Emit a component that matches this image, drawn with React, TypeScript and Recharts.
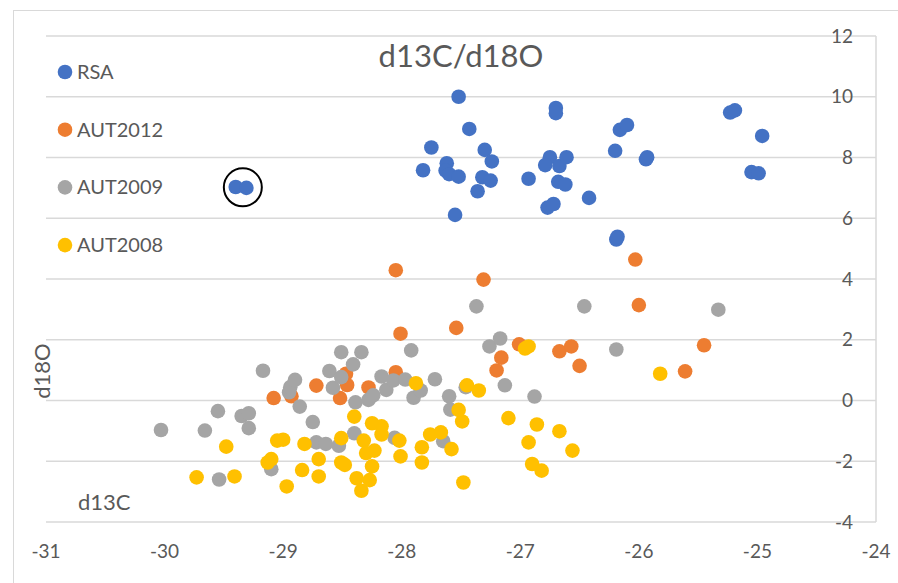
import React from 'react';
import { ScatterChart, Scatter, XAxis, YAxis, CartesianGrid, ReferenceDot } from 'recharts';

// [d13C, d18O]
const rsa: [number, number][] = [
  [-27.52, 10.0], [-27.43, 8.94], [-27.75, 8.33], [-27.82, 7.58], [-27.62, 7.81],
  [-27.63, 7.57], [-27.6, 7.45], [-27.52, 7.37], [-27.55, 6.11], [-27.3, 8.25],
  [-27.24, 7.87], [-27.32, 7.35], [-27.25, 7.24], [-27.36, 6.89], [-26.93, 7.3],
  [-26.7, 9.63], [-26.7, 9.46], [-26.75, 8.01], [-26.79, 7.75], [-26.67, 7.72],
  [-26.61, 8.01], [-26.68, 7.2], [-26.62, 7.11], [-26.77, 6.35], [-26.72, 6.47],
  [-26.42, 6.67], [-26.16, 8.91], [-26.1, 9.07], [-26.2, 8.22], [-25.94, 7.94],
  [-25.93, 8.01], [-26.19, 5.3], [-26.18, 5.39], [-25.23, 9.48], [-25.19, 9.55],
  [-24.96, 8.71], [-25.05, 7.52], [-24.99, 7.48], [-29.4, 7.03], [-29.31, 7.0],
];

const aut2012: [number, number][] = [
  [-28.05, 4.29], [-28.01, 2.2], [-27.31, 3.98], [-27.54, 2.39], [-27.01, 1.85],
  [-27.16, 1.41], [-27.2, 0.99], [-26.67, 1.62], [-26.57, 1.78], [-26.5, 1.14],
  [-26.03, 4.64], [-26.0, 3.14], [-25.45, 1.82], [-25.61, 0.96], [-29.08, 0.08],
  [-28.93, 0.14], [-28.72, 0.49], [-28.47, 0.88], [-28.46, 0.51], [-28.52, 0.08],
  [-28.28, 0.43], [-28.05, 0.93],
];

const aut2009: [number, number][] = [
  [-30.03, -0.97], [-29.66, -0.99], [-29.55, -0.35], [-29.35, -0.51], [-29.29, -0.42],
  [-29.29, -0.91], [-29.54, -2.6], [-29.1, -2.26], [-29.17, 0.98], [-28.95, 0.27],
  [-28.94, 0.44], [-28.9, 0.68], [-28.86, -0.2], [-28.75, -0.71], [-28.72, -1.38],
  [-28.64, -1.43], [-28.53, -1.49], [-28.4, -1.08], [-28.61, 0.97], [-28.58, 0.42],
  [-28.51, 1.59], [-28.51, 0.77], [-28.41, 1.19], [-28.34, 1.59], [-28.39, -0.06],
  [-28.28, 0.02], [-28.24, 0.17], [-28.17, 0.79], [-28.13, 0.35], [-28.07, 0.66],
  [-27.97, 0.69], [-27.92, 1.65], [-27.9, 0.09], [-27.84, 0.33], [-27.72, 0.7],
  [-28.06, -1.23], [-27.6, 0.14], [-27.59, -0.3], [-27.65, -1.34], [-27.37, 3.1],
  [-27.26, 1.78], [-27.17, 2.04], [-27.13, 0.5], [-27.46, 0.44], [-26.88, 0.13],
  [-26.46, 3.1], [-26.19, 1.68], [-25.33, 2.99],
];

const aut2008: [number, number][] = [
  [-29.73, -2.53], [-29.41, -2.5], [-29.48, -1.52], [-29.13, -2.04], [-29.1, -1.93],
  [-29.05, -1.32], [-29.0, -1.29], [-28.97, -2.83], [-28.84, -2.29], [-28.82, -1.43],
  [-28.7, -1.93], [-28.7, -2.5], [-28.51, -1.24], [-28.51, -2.04], [-28.48, -2.12],
  [-28.4, -0.53], [-28.38, -2.56], [-28.34, -2.97], [-28.32, -1.32], [-28.3, -1.73],
  [-28.25, -0.75], [-28.27, -2.62], [-28.25, -2.17], [-28.23, -1.65], [-28.17, -0.85],
  [-28.17, -1.12], [-28.02, -1.32], [-28.01, -1.84], [-27.88, 0.57], [-27.83, -1.54],
  [-27.83, -2.04], [-27.76, -1.12], [-27.67, -1.05], [-27.58, -1.6], [-27.45, 0.5],
  [-27.35, 0.33], [-26.96, 1.71], [-26.93, 1.78], [-27.52, -0.31], [-27.49, -0.69],
  [-27.1, -0.58], [-26.86, -0.79], [-26.67, -1.01], [-26.93, -1.38], [-26.9, -2.09],
  [-26.82, -2.31], [-27.48, -2.7], [-25.82, 0.88], [-26.56, -1.65],
];

const xTicks = [-31, -30, -29, -28, -27, -26, -25, -24];
const yTicks = [-4, -2, 0, 2, 4, 6, 8, 10, 12];

const series = [
  { name: 'RSA', color: '#4472C4', points: rsa },
  { name: 'AUT2012', color: '#ED7D31', points: aut2012 },
  { name: 'AUT2009', color: '#A5A5A5', points: aut2009 },
  { name: 'AUT2008', color: '#FFC000', points: aut2008 },
];

// the two overlapping RSA points that stand apart get ringed
const outlier = { x: -29.34, y: 7.02 };

const FONT = 'Lato, "Open Sans", sans-serif';
const TEXT = '#595959';
const GRID = '#d9d9d9';

const dot = (color: string) => (props: any) => (
  <circle cx={props.cx} cy={props.cy} r={7.3} fill={color} />
);

export default function App() {
  return (
    <div style={{ position: 'absolute', left: 0, top: 0, width: 898, height: 583, overflow: 'hidden', background: '#fff', fontFamily: FONT }}>
      <div style={{ position: 'absolute', left: 13, top: 10, width: 1000, height: 1000, border: `1px solid ${GRID}` }} />
      <ScatterChart width={898} height={583} margin={{ top: 36, right: 22, left: 46, bottom: 0 }}>
        <CartesianGrid vertical={false} stroke={GRID} strokeWidth={1.5} />
        <XAxis
          type="number"
          dataKey="x"
          domain={[-31, -24]}
          ticks={xTicks}
          interval={0}
          height={61}
          axisLine={false}
          tickLine={false}
          tickMargin={17}
          tick={{ fill: TEXT, fontSize: 19, fontFamily: FONT }}
        />
        <YAxis
          type="number"
          dataKey="y"
          domain={[-4, 12]}
          ticks={yTicks}
          interval={0}
          orientation="right"
          mirror
          width={22}
          axisLine={{ stroke: GRID, strokeWidth: 1.5 }}
          tickLine={false}
          tickMargin={17}
          tick={{ fill: TEXT, fontSize: 19, fontFamily: FONT }}
        />
        {series.map((s) => (
          <Scatter
            key={s.name}
            name={s.name}
            data={s.points.map(([x, y]) => ({ x, y }))}
            fill={s.color}
            shape={dot(s.color)}
            isAnimationActive={false}
          />
        ))}
        <ReferenceDot x={outlier.x} y={outlier.y} r={19} fill="none" stroke="#000" strokeWidth={2} />
      </ScatterChart>
      <svg width={898} height={583} style={{ position: 'absolute', left: 0, top: 0, pointerEvents: 'none' }}>
        <text x={461} y={67} textAnchor="middle" fill={TEXT} fontSize={31} fontFamily={FONT}>d13C/d18O</text>
        <text x={50} y={371} textAnchor="middle" fill={TEXT} fontSize={22} fontFamily={FONT} transform="rotate(-90 50 371)">d18O</text>
        <text x={78} y={510} fill={TEXT} fontSize={22} fontFamily={FONT}>d13C</text>
        {series.map((s, i) => (
          <g key={s.name}>
            <circle cx={65} cy={72 + i * 57.7} r={7.3} fill={s.color} />
            <text x={77} y={79 + i * 57.7} fill={TEXT} fontSize={20} fontFamily={FONT}>{s.name}</text>
          </g>
        ))}
      </svg>
    </div>
  );
}
